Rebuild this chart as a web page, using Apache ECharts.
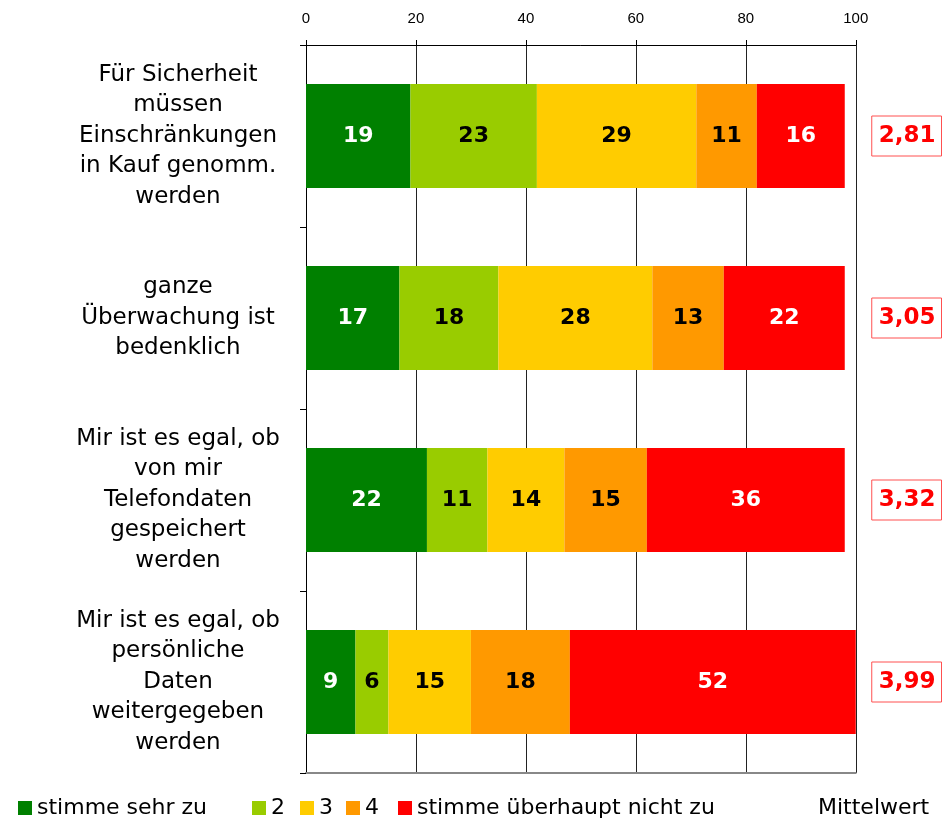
<!DOCTYPE html>
<html>
    <head>
        <meta charset="utf-8">
        <script src="https://cdn.jsdelivr.net/npm/echarts@6/dist/echarts.min.js"></script>
    </head>
    <body>
        <style>
            html, body, #main {
                width: 100%;
                height: 100%;
                margin: 0;
                background: #fff;
            }
        </style>
        <div id="main"></div>

        <script>

            var categories = [
                'Für Sicherheit\nmüssen\nEinschränkungen\nin Kauf genomm.\nwerden',
                'ganze\nÜberwachung ist\nbedenklich',
                'Mir ist es egal, ob\nvon mir\nTelefondaten\ngespeichert\nwerden',
                'Mir ist es egal, ob\npersönliche\nDaten\nweitergegeben\nwerden'
            ];
            var seriesNames = ['stimme sehr zu', '2', '3', '4', 'stimme überhaupt nicht zu'];
            var values1 = [19, 17, 22, 9];
            var values2 = [23, 18, 11, 6];
            var values3 = [29, 28, 14, 15];
            var values4 = [11, 13, 15, 18];
            var values5 = [16, 22, 36, 52];
            var means = ['2,81', '3,05', '3,32', '3,99'];
            var xTicks = [0, 20, 40, 60, 80, 100];

            var colors = ['#008000', '#99cc00', '#ffcc00', '#ff9900', '#ff0000'];
            var labelColors = ['#fff', '#000', '#000', '#000', '#fff'];
            var allValues = [values1, values2, values3, values4, values5];
            // left edge of each legend entry, as in the original
            var legendLeft = [18, 252, 300, 346, 398];

            var chart = echarts.init(document.getElementById('main'));

            var series = allValues.map(function (vals, i) {
                return {
                    name: seriesNames[i],
                    type: 'bar',
                    stack: 'total',
                    data: vals,
                    barWidth: 104,
                    itemStyle: { color: colors[i] },
                    label: {
                        show: true,
                        position: 'inside',
                        color: labelColors[i],
                        fontFamily: 'DejaVu Sans',
                        fontWeight: 'bold',
                        fontSize: 22
                    },
                    emphasis: { disabled: true }
                };
            });

            var legends = seriesNames.map(function (name, i) {
                return {
                    left: legendLeft[i],
                    top: 797,
                    padding: 0,
                    itemWidth: 14,
                    itemHeight: 14,
                    icon: 'rect',
                    selectedMode: false,
                    data: [name],
                    textStyle: {
                        fontFamily: 'DejaVu Sans',
                        fontSize: 22,
                        color: '#000'
                    }
                };
            });

            chart.setOption({
                animation: false,
                legend: legends,
                graphic: [{
                    type: 'text',
                    left: 818,
                    top: 797,
                    style: {
                        text: 'Mittelwert',
                        font: '22px "DejaVu Sans"',
                        fill: '#000'
                    }
                }],
                grid: {
                    left: 306,
                    right: 89,
                    top: 45,
                    bottom: 53
                },
                xAxis: [{
                    type: 'value',
                    position: 'top',
                    min: xTicks[0],
                    max: xTicks[xTicks.length - 1],
                    interval: 20,
                    axisLine: { show: true, lineStyle: { color: '#000' } },
                    axisTick: { show: true, length: 5, lineStyle: { color: '#000' } },
                    axisLabel: {
                        margin: 19,
                        fontFamily: 'Liberation Sans',
                        fontSize: 15,
                        color: '#000'
                    },
                    splitLine: { show: true, lineStyle: { color: '#222', width: 1 } }
                }, {
                    type: 'value',
                    position: 'bottom',
                    min: 0,
                    max: 100,
                    axisLine: { show: true, lineStyle: { color: '#888', width: 2 } },
                    axisTick: { show: false },
                    axisLabel: { show: false },
                    splitLine: { show: false }
                }],
                yAxis: [{
                    type: 'category',
                    inverse: true,
                    data: categories,
                    axisLine: { show: true, lineStyle: { color: '#000' } },
                    axisTick: { show: true, length: 6, lineStyle: { color: '#000' } },
                    axisLabel: {
                        align: 'center',
                        margin: 128,
                        fontFamily: 'DejaVu Sans',
                        fontSize: 23,
                        lineHeight: 30.5,
                        color: '#000'
                    }
                }, {
                    type: 'category',
                    inverse: true,
                    position: 'right',
                    data: means,
                    axisLine: { show: false },
                    axisTick: { show: false },
                    axisLabel: {
                        margin: 16,
                        formatter: function (v) {
                            return '{b|' + v + '}';
                        },
                        rich: {
                            b: {
                                color: '#ff0000',
                                fontFamily: 'DejaVu Sans',
                                fontWeight: 'bold',
                                fontSize: 23,
                                borderColor: '#ff5050',
                                borderWidth: 1,
                                padding: [9, 6, 8, 7]
                            }
                        }
                    }
                }],
                series: series
            });

        </script>
    </body>
</html>
